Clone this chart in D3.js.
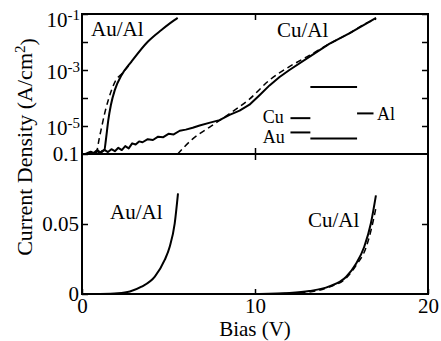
<!DOCTYPE html>
<html>
<head>
<meta charset="utf-8">
<script src="https://cdn.jsdelivr.net/npm/d3@7"></script>
<style>
  body { margin: 0; background: #fff; }
  svg { display: block; }
</style>
</head>
<body>
<svg id="chart" width="441" height="341"></svg>
<script>
// bias (V) values and tick labels
const xTicks = [0, 10, 20];
const logTicks = [1e-1, 1e-2, 1e-3, 1e-4, 1e-5];
const logLabels = { 0.1: '-1', 0.001: '-3', 0.00001: '-5' };
const linTicks = [0, 0.05, 0.1];
const linLabels = ['0', '0.05', '0.1'];

// top panel, [bias, log10 J]
const auAlLogSolid = [
  [0.4, -6], [0.7, -5.95], [0.9, -5.86], [1.0, -5.97], [1.15, -5.9], [1.29, -5.86],
  [1.38, -5.5], [1.52, -4.79], [1.67, -4.25], [1.9, -3.71], [2.29, -3.18],
  [2.86, -2.7], [3.8, -1.99], [4.59, -1.57], [5.36, -1.21], [5.53, -1.14],
];
const auAlLogDashed = [
  [0.84, -6], [0.98, -5.5], [1.14, -5.03], [1.33, -4.5], [1.52, -4.07],
  [1.73, -3.68], [1.96, -3.36], [2.29, -3.14], [2.86, -2.72],
];
const cuAlLogSolid = [
  [0.2, -6], [0.5, -5.92], [0.7, -5.97], [0.9, -5.88], [1.1, -5.95], [1.3, -5.85],
  [1.5, -5.93], [1.7, -5.83], [1.9, -5.9], [2.1, -5.78], [2.3, -5.86], [2.5, -5.72],
  [2.7, -5.8], [2.9, -5.62], [3.1, -5.66], [3.3, -5.55], [3.5, -5.58], [3.8, -5.47],
  [4.1, -5.5], [4.4, -5.38], [4.7, -5.4], [5.0, -5.28], [5.3, -5.3], [5.65, -5.17],
  [6.0, -5.13], [6.4, -5.06], [6.8, -4.98], [7.4, -4.88], [7.95, -4.79], [8.53, -4.6],
  [9.11, -4.45], [9.68, -4.24], [10.26, -3.9], [10.84, -3.55], [11.42, -3.25],
  [11.99, -3.0], [13.14, -2.53], [14.29, -2.07], [15.45, -1.69], [16.6, -1.28], [17.0, -1.14],
];
const cuAlLogDashed = [
  [5.53, -6], [6.4, -5.46], [7.38, -5.04], [8.41, -4.61], [9.68, -4.04], [10.84, -3.36],
  [11.99, -2.88], [13.14, -2.48], [14.29, -2.07], [15.45, -1.69], [16.6, -1.28], [17.0, -1.18],
];

// bottom panel, [bias, J]
const auAlLinSolid = [
  [1.04, 0], [2.07, 0.0005], [2.77, 0.0018], [3.44, 0.0052], [4.21, 0.0124],
  [4.78, 0.0243], [5.07, 0.0338], [5.36, 0.0505], [5.55, 0.0719],
];
const cuAlLinSolid = [
  [10.26, 0], [11.99, 0.0007], [13.14, 0.0021], [14.29, 0.0054], [15.26, 0.0121],
  [15.83, 0.0214], [16.31, 0.0336], [16.7, 0.0505], [16.99, 0.0704],
];
const cuAlLinDashed = [
  [10.26, 0], [12.56, 0.0007], [14.29, 0.005], [15.27, 0.0114], [15.9, 0.0214],
  [16.41, 0.0329], [16.71, 0.0457], [17.0, 0.062],
];

// band diagram inset, in top panel data units [x1, x2, log10 y]
const bandLines = [
  [13.2, 15.9, -3.61],
  [12.05, 13.2, -4.72],
  [12.05, 13.2, -5.23],
  [13.2, 15.9, -5.45],
  [15.9, 16.85, -4.55],
];
const bandLabels = [
  { text: 'Cu', v: 10.45, e: -4.66 },
  { text: 'Au', v: 10.45, e: -5.37 },
  { text: 'Al', v: 17.05, e: -4.55 },
];

const FONT = '"Liberation Serif", Tinos, "Times New Roman", Times, serif';
const svg = d3.select('#chart').attr('font-family', FONT);
const padL = 82, padR = 428, padT = 14, padM = 154, padB = 294;

const x = d3.scaleLinear().domain([0, 20]).range([padL, padR]);
const yLog = d3.scaleLog().domain([1e-6, 1e-1]).range([padM, padT]);
const yLin = d3.scaleLinear().domain([0, 0.1]).range([padB, padM]);

const defs = svg.append('defs');
defs.append('clipPath').attr('id', 'clipTop')
  .append('rect').attr('x', padL).attr('y', padT).attr('width', padR - padL).attr('height', padM - padT);
defs.append('clipPath').attr('id', 'clipBot')
  .append('rect').attr('x', padL).attr('y', padM).attr('width', padR - padL).attr('height', padB - padM);

const lineLog = d3.line().x((d) => x(d[0])).y((d) => yLog(10 ** d[1]));
const lineLin = d3.line().x((d) => x(d[0])).y((d) => yLin(d[1])).curve(d3.curveMonotoneX);

const gTop = svg.append('g').attr('clip-path', 'url(#clipTop)');
const gBot = svg.append('g').attr('clip-path', 'url(#clipBot)');

function addPath(g, data, gen, dashed) {
  g.append('path')
    .attr('d', gen(data))
    .attr('fill', 'none')
    .attr('stroke', '#000')
    .attr('stroke-width', dashed ? 1.5 : 2)
    .attr('stroke-dasharray', dashed ? '6,4' : null)
    .attr('stroke-linejoin', 'round');
}

addPath(gTop, auAlLogSolid, lineLog.curve(d3.curveMonotoneX), false);
addPath(gTop, auAlLogDashed, lineLog.curve(d3.curveMonotoneX), true);
addPath(gTop, cuAlLogSolid, lineLog.curve(d3.curveLinear), false);
addPath(gTop, cuAlLogDashed, lineLog.curve(d3.curveMonotoneX), true);
addPath(gBot, auAlLinSolid, lineLin, false);
addPath(gBot, cuAlLinSolid, lineLin, false);
addPath(gBot, cuAlLinDashed, lineLin, true);

// band inset
svg.append('g').selectAll('line').data(bandLines).join('line')
  .attr('x1', (d) => x(d[0])).attr('x2', (d) => x(d[1]))
  .attr('y1', (d) => yLog(10 ** d[2])).attr('y2', (d) => yLog(10 ** d[2]))
  .attr('stroke', '#000').attr('stroke-width', 2);
svg.append('g').selectAll('text').data(bandLabels).join('text')
  .attr('x', (d) => x(d.v)).attr('y', (d) => yLog(10 ** d.e))
  .attr('dy', '0.35em')
  .attr('font-size', 18).text((d) => d.text);

// frame
svg.append('rect').attr('x', padL).attr('y', padT).attr('width', padR - padL).attr('height', padB - padT)
  .attr('fill', 'none').attr('stroke', '#000').attr('stroke-width', 2);
svg.append('line').attr('x1', padL).attr('x2', padR).attr('y1', padM).attr('y2', padM)
  .attr('stroke', '#000').attr('stroke-width', 2);

function styleAxis(g) {
  g.attr('font-family', FONT).attr('font-size', 21);
  g.select('.domain').remove();
  g.selectAll('.tick line').attr('stroke-width', 1.5);
}

// bottom axis
svg.append('g').attr('transform', `translate(0,${padB})`)
  .call(d3.axisBottom(x).tickValues(xTicks).tickSize(-5).tickPadding(4).tickFormat(d3.format('d')))
  .call(styleAxis);
// top and middle ticks
svg.append('g').attr('transform', `translate(0,${padT})`)
  .call(d3.axisTop(x).tickValues([10]).tickSize(-6).tickFormat(''))
  .call(styleAxis);
svg.append('g').attr('transform', `translate(0,${padM - 6})`)
  .call(d3.axisBottom(x).tickValues([10]).tickSize(12).tickFormat(''))
  .call(styleAxis);

// left log axis
const gLog = svg.append('g').attr('transform', `translate(${padL},0)`)
  .call(d3.axisLeft(yLog).tickValues(logTicks).tickSize(-6).tickPadding(3).tickFormat(''))
  .call(styleAxis);
gLog.selectAll('.tick text').each(function (d) {
  const sup = logLabels[d];
  if (!sup) return;
  const t = d3.select(this).attr('dy', d === 0.1 ? '0.6em' : '0.4em').attr('x', -2);
  t.append('tspan').text('10');
  t.append('tspan').attr('dy', '-0.45em').attr('font-size', 15).text(sup);
});

// left linear axis
svg.append('g').attr('transform', `translate(${padL},0)`)
  .call(d3.axisLeft(yLin).tickValues(linTicks).tickSize(-6).tickPadding(3)
    .tickFormat((d, i) => linLabels[i]))
  .call(styleAxis);

// right ticks
svg.append('g').attr('transform', `translate(${padR},0)`)
  .call(d3.axisRight(yLog).tickValues(logTicks).tickSize(-6).tickFormat(''))
  .call(styleAxis);
svg.append('g').attr('transform', `translate(${padR},0)`)
  .call(d3.axisRight(yLin).tickValues([0.05]).tickSize(-6).tickFormat(''))
  .call(styleAxis);

// curve labels
const curveLabels = [
  { text: 'Au/Al', x: 91, y: 36 },
  { text: 'Cu/Al', x: 277, y: 37 },
  { text: 'Au/Al', x: 110, y: 219 },
  { text: 'Cu/Al', x: 308, y: 227 },
];
svg.append('g').selectAll('text').data(curveLabels).join('text')
  .attr('x', (d) => d.x).attr('y', (d) => d.y)
  .attr('font-size', 21).text((d) => d.text);

// axis titles
svg.append('text').attr('x', 255).attr('y', 336)
  .attr('text-anchor', 'middle').attr('font-size', 21).text('Bias (V)');

const yTitle = svg.append('text').attr('transform', 'translate(32,147) rotate(-90)')
  .attr('text-anchor', 'middle').attr('font-size', 22);
yTitle.append('tspan').text('Current Density  (A/cm');
yTitle.append('tspan').attr('dy', '-0.45em').attr('font-size', 15).text('2');
yTitle.append('tspan').attr('dy', '0.45em').text(')');
</script>
</body>
</html>
